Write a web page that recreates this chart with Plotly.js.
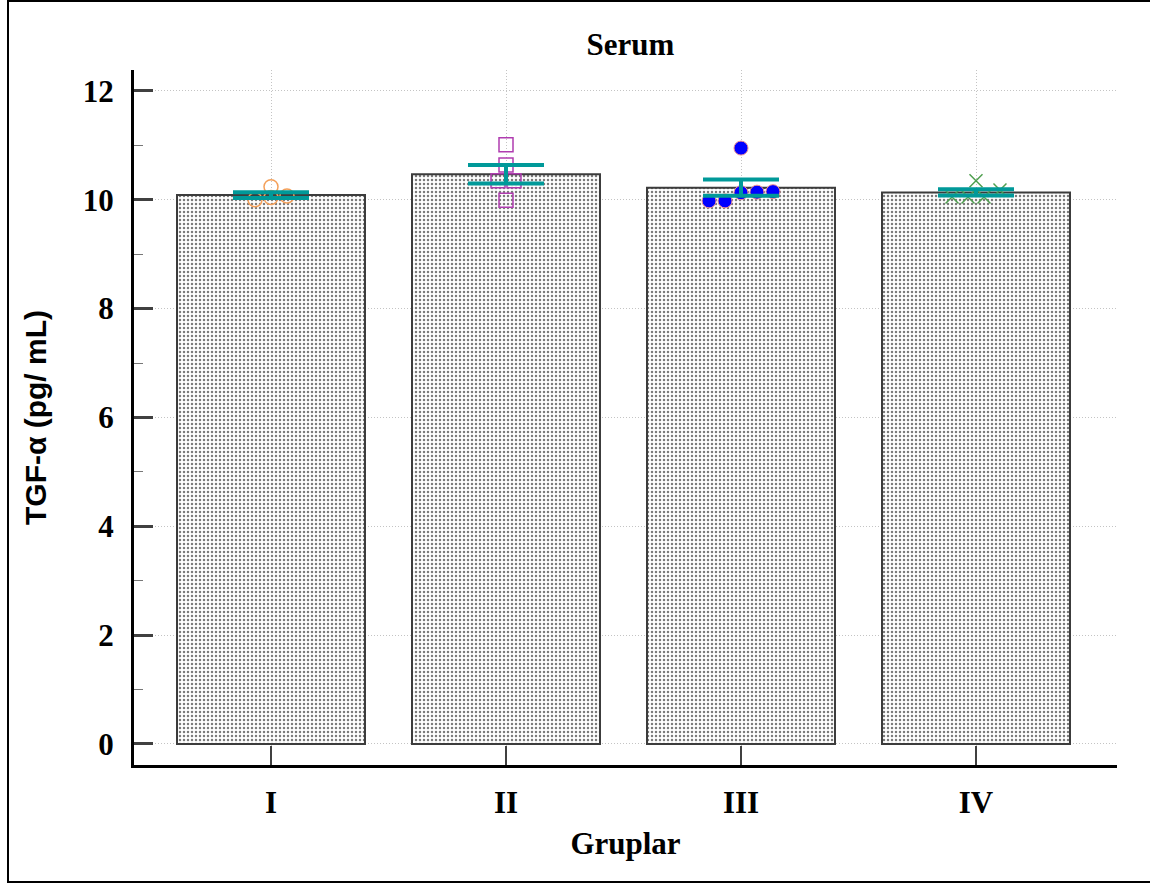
<!DOCTYPE html>
<html>
<head>
<meta charset="utf-8">
<script src="https://cdn.plot.ly/plotly-3.0.1.min.js"></script>
<style>
  html, body { margin: 0; padding: 0; background: #fff; overflow: hidden; }
  #chart { width: 1150px; height: 883px; }
  #frame { position: absolute; left: 7px; top: 0px; width: 1200px; height: 879px;
           border: 2px solid #000; pointer-events: none; box-sizing: content-box; }
</style>
</head>
<body>
<div id="chart"></div>
<div id="frame"></div>
<script>
// ---- data ----
const categories = ['I', 'II', 'III', 'IV'];
const groupI   = [10.00, 10.04, 10.07, 10.24];
const groupII  = [9.99, 10.35, 10.35, 10.64, 11.01];
const groupIII = [9.98, 9.98, 10.13, 10.14, 10.15, 10.95];
const groupIV  = [10.05, 10.05, 10.05, 10.18, 10.35];
const yTickValues = [0, 2, 4, 6, 8, 10, 12];

const groups = [groupI, groupII, groupIII, groupIV];

// ---- derived statistics ----
function mean(a) { return a.reduce((s, v) => s + v, 0) / a.length; }
function sem(a) {
  const m = mean(a);
  const v = a.reduce((s, x) => s + (x - m) * (x - m), 0) / (a.length - 1);
  return Math.sqrt(v) / Math.sqrt(a.length);
}
const means = groups.map(mean);
const sems = groups.map(sem);
const xIdx = categories.map((c, i) => i);

// simple beeswarm: cluster close values, spread them side by side
function swarm(values, center) {
  const sorted = values.slice().sort((a, b) => a - b);
  const clusters = [];
  sorted.forEach(v => {
    const last = clusters[clusters.length - 1];
    if (last && v - last[0] < 0.2) last.push(v); else clusters.push([v]);
  });
  const xs = [], ys = [];
  const step = 0.068;
  clusters.forEach(cl => {
    cl.forEach((v, i) => {
      xs.push(center + (i - (cl.length - 1) / 2) * step);
      ys.push(v);
    });
  });
  return { x: xs, y: ys };
}

const markerStyles = [
  { symbol: 'circle-open', color: '#f4a05a', size: 14, line: { width: 1.5, color: '#f4a05a' } },
  { symbol: 'square-open', color: '#b03cb0', size: 14, line: { width: 1.5, color: '#b03cb0' } },
  { symbol: 'circle', color: '#0000ff', size: 14, line: { width: 1, color: '#f09090' } },
  { symbol: 'x-thin-open', color: '#4f9f4f', size: 13, line: { width: 1.5, color: '#4f9f4f' } }
];

const serif = 'Liberation Serif, Times New Roman, serif';
const sans = 'Liberation Sans, Arial, sans-serif';

const traces = [];
traces.push({
  type: 'bar',
  x: xIdx,
  y: means,
  width: 0.8,
  marker: {
    color: '#ffffff',
    line: { color: '#3c3c3c', width: 2 },
    pattern: { shape: '.', fgcolor: '#7a7a7a', bgcolor: '#ffffff', size: 4, solidity: 0.3 }
  },
  hoverinfo: 'skip'
});
groups.forEach((g, i) => {
  const p = swarm(g, i);
  traces.push({
    type: 'scatter', mode: 'markers', x: p.x, y: p.y,
    marker: markerStyles[i], hoverinfo: 'skip', cliponaxis: false
  });
});
traces.push({
  type: 'scatter', mode: 'markers', x: xIdx, y: means,
  marker: { size: 1, opacity: 0 },
  error_y: { type: 'data', array: sems, visible: true, color: '#009999', thickness: 4, width: 38 },
  hoverinfo: 'skip'
});

const layout = {
  width: 1150, height: 883,
  margin: { l: 134, r: 33, t: 70, b: 118, pad: 0 },
  paper_bgcolor: '#ffffff', plot_bgcolor: '#ffffff',
  showlegend: false,
  bargap: 0.2,
  title: {
    text: 'Serum', x: 0.505, xref: 'paper', xanchor: 'center',
    y: 1 - 44 / 883, yref: 'container', yanchor: 'middle',
    font: { family: serif, size: 31, color: '#000', weight: 'bold' }
  },
  xaxis: {
    range: [-0.583, 3.6],
    tickmode: 'array', tickvals: xIdx, ticktext: categories,
    showline: true, linecolor: '#000', linewidth: 3,
    ticks: 'inside', ticklen: 19, tickwidth: 2, tickcolor: '#404040',
    showgrid: true, gridcolor: '#c4c4c4', griddash: '1px,2px', gridwidth: 1,
    zeroline: false, fixedrange: true,
    ticklabelstandoff: 8,
    tickfont: { family: serif, size: 31, color: '#000', weight: 'bold' },
    title: { text: 'Gruplar', standoff: 14, font: { family: serif, size: 31, color: '#000', weight: 'bold' } }
  },
  yaxis: {
    range: [-0.386, 12.385],
    tickmode: 'array', tickvals: yTickValues, ticktext: yTickValues.map(String),
    showline: true, linecolor: '#000', linewidth: 3,
    ticks: 'inside', ticklen: 19, tickwidth: 3, tickcolor: '#404040',
    minor: { tick0: 0, dtick: 1, ticks: 'inside', ticklen: 9, tickwidth: 1, tickcolor: '#777', showgrid: false },
    showgrid: true, gridcolor: '#c4c4c4', griddash: '1px,2px', gridwidth: 1,
    zeroline: false, fixedrange: true,
    ticklabelstandoff: 11,
    tickfont: { family: serif, size: 31, color: '#000', weight: 'bold' },
    title: { text: 'TGF-α (pg/ mL)', standoff: 28, font: { family: sans, size: 30, color: '#000', weight: 'bold' } }
  }
};

Plotly.newPlot('chart', traces, layout, { displayModeBar: false, staticPlot: true });
</script>
</body>
</html>
